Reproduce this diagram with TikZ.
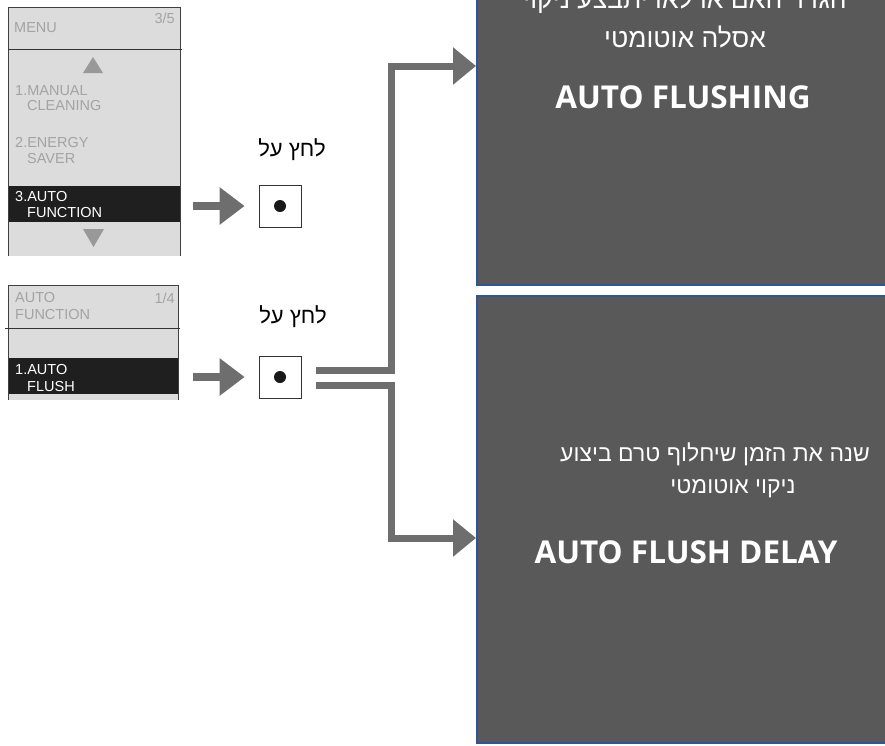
\documentclass[tikz,border=0pt]{standalone}
\usepackage{fontspec}
\setmainfont{Liberation Sans}
\newfontfamily\hebfont[Script=Hebrew]{Liberation Sans}
\newfontfamily\boxfont{Open Sans}
\TeXXeTstate=1
\usetikzlibrary{arrows.meta, positioning}
\definecolor{panelgray}{HTML}{DCDCDC}
\definecolor{menutext}{HTML}{A3A3A3}
\definecolor{flowgray}{HTML}{6E6E6E}
\definecolor{boxgray}{HTML}{595959}
\definecolor{boxblue}{HTML}{2F5597}

\begin{document}
\begin{tikzpicture}[x=1pt, y=-1pt,
    menuitem/.style={anchor=west, inner sep=0pt, text=menutext, font=\fontsize{14.5}{16}\selectfont},
    hiitem/.style={menuitem, text=white},
    pushbtn/.style={draw=black!80, line width=0.8pt, minimum size=42pt, inner sep=0pt},
    pushlbl/.style={font=\hebfont\fontsize{22}{25}\selectfont},
    smallarrow/.style={draw=flowgray, line width=8pt, -{Triangle[length=25pt,width=36pt]}},
    flow/.style={draw=flowgray, line width=7pt, -{Triangle[length=23pt,width=36pt]}},
    darkbox/.style={fill=boxgray, draw=boxblue, line width=2pt, anchor=north west, inner sep=0pt},
    boxheb/.style={text=white, font=\hebfont\fontsize{23}{26}\selectfont},
    boxtitle/.style={text=white, font=\boxfont\bfseries\fontsize{31.5}{35}\selectfont}]

    \useasboundingbox (0,0) rectangle (885,745);
    \clip (0,0) rectangle (885,745);

    % Pantalla MENU
    \fill[panelgray] (8,7) rectangle (180,256);
    \fill[black!88] (8,186) rectangle (180,222);
    \draw[black!75, line width=1pt] (8,256) -- (8,7) -- (180,7) -- (180,256);
    \draw[black!80] (8,49) -- (182,49);
    \fill[black!40] (83,73) -- (103,73) -- (93,57) -- cycle;
    \fill[black!40] (83,229) -- (104,229) -- (93.5,247) -- cycle;
    \node[menuitem] (menuT) at (14,28) {MENU};
    \node[menuitem, anchor=east] (menuP) at (175,18) {3/5};
    \node[menuitem] (itemA) at (15,91) {1.MANUAL};
    \node[menuitem] (itemAb) at (27,106) {CLEANING};
    \node[menuitem] (itemB) at (15,143) {2.ENERGY};
    \node[menuitem] (itemBb) at (27,159) {SAVER};
    \node[hiitem] (itemC) at (15,197) {3.AUTO};
    \node[hiitem] (itemCb) at (27,213) {FUNCTION};

    % Pantalla AUTO FUNCTION
    \fill[panelgray] (8,285) rectangle (178,400);
    \fill[black!88] (8,358) rectangle (178,394);
    \draw[black!75, line width=1pt] (8,400) -- (8,285) -- (178,285) -- (178,400);
    \draw[black!80] (5,328) -- (180,328);
    \node[menuitem] (autoT) at (15,298) {AUTO};
    \node[menuitem] (autoTb) at (15,315) {FUNCTION};
    \node[menuitem, anchor=east] (autoP) at (175,298) {1/4};
    \node[hiitem] (flushI) at (15,369) {1.AUTO};
    \node[hiitem] (flushIb) at (27,386) {FLUSH};

    % Botones
    \node[pushbtn] (btnA) at (280,206) {};
    \fill[black!90] (btnA.center) circle[radius=6pt];
    \node[pushlbl] (lblA) at (292,150) {\beginR לחץ על\endR};
    \node[pushbtn] (btnB) at (280,377) {};
    \fill[black!90] (btnB.center) circle[radius=6pt];
    \node[pushlbl] (lblB) at (293,317) {\beginR לחץ על\endR};

    \coordinate (selA) at (180,206);
    \coordinate (selB) at (180,377);
    \draw[smallarrow, shorten <=13pt, shorten >=14pt] (selA) -- (btnA.west);
    \draw[smallarrow, shorten <=13pt, shorten >=14pt] (selB) -- (btnB.west);

    % Cajas de opciones
    \node[darkbox, minimum width=440pt, minimum height=326pt] (flushbox) at (476,-42) {};
    \node[darkbox, minimum width=440pt, minimum height=447pt] (delaybox) at (476,295) {};

    \node[boxheb, font=\hebfont\fontsize{26.5}{30}\selectfont] (flushA) at (685,0) {\beginR הגדר האם או לאו יתבצע ניקוי\endR};
    \node[boxheb, font=\hebfont\fontsize{26.5}{30}\selectfont] (flushB) at (685,37) {\beginR אסלה אוטומטי\endR};
    \node[boxtitle] (flushC) at (683,97) {AUTO FLUSHING};

    \node[boxheb] (delayA) at (715,454) {\beginR שנה את הזמן שיחלוף טרם ביצוע\endR};
    \node[boxheb] (delayB) at (733,489) {\beginR ניקוי אוטומטי\endR};
    \node[boxtitle] (delayC) at (686,552) {AUTO FLUSH DELAY};

    % Conexiones
    \path (flushbox.north west) ++(0,108) coordinate (inA);
    \path (delaybox.north west) ++(0,243) coordinate (inB);
    \coordinate (forkA) at (316,370);
    \coordinate (forkB) at (316,385);
    \draw[flow] (forkA) -- ++(75.5,0) |- (inA);
    \draw[flow] (forkB) -- ++(75.5,0) |- (inB);
\end{tikzpicture}
\end{document}
